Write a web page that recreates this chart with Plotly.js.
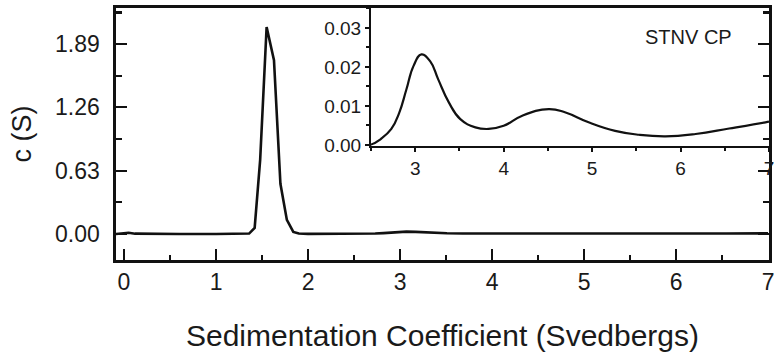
<!DOCTYPE html>
<html>
<head>
<meta charset="utf-8">
<script src="https://cdn.plot.ly/plotly-3.0.1.min.js"></script>
<style>html,body{margin:0;padding:0;background:#fff;}#chart{width:774px;height:352px;}</style>
</head>
<body>
<div id="chart"></div>
<script>
// Sedimentation coefficient (Svedbergs)
var sedX = [-0.09, -0.02, 0.05, 0.12, 0.3, 0.6, 1.0, 1.3, 1.36, 1.42, 1.48, 1.55, 1.63, 1.70, 1.77, 1.84, 1.90, 2.0, 2.2, 2.4,
            2.5, 2.61, 2.73, 2.82, 2.90, 2.98, 3.07, 3.17, 3.26, 3.38, 3.51, 3.68, 3.83,
            4.0, 4.21, 4.51, 4.70, 4.96, 5.26, 5.53, 5.83, 6.17, 6.55, 6.96, 7.0];
// c(S)
var sedC = [0.0, 0.004, 0.012, 0.003, 0.0, 0.0, 0.0, 0.0005, 0.004, 0.06, 0.74, 2.06, 1.73, 0.5, 0.14, 0.02, 0.004, 0.001, 0.0003, 0.0001,
            0.0001, 0.0015, 0.0041, 0.0083, 0.0142, 0.0202, 0.0232, 0.0214, 0.0168, 0.0109, 0.0066, 0.0045, 0.0041,
            0.0049, 0.0075, 0.0092, 0.0083, 0.0058, 0.0036, 0.0026, 0.0022, 0.0028, 0.0042, 0.0058, 0.0060];

var insetLabel = 'STNV CP';
var xTitle = 'Sedimentation Coefficient (Svedbergs)';
var yTitle = 'c (S)';

var ink = '#111';
var font = '"Liberation Sans", Arial, sans-serif';

var traces = [
  {x: sedX, y: sedC, type: 'scatter', mode: 'lines', xaxis: 'x', yaxis: 'y',
   line: {color: ink, width: 2.6}, hoverinfo: 'skip'},
  {x: sedX, y: sedC, type: 'scatter', mode: 'lines', xaxis: 'x2', yaxis: 'y2',
   line: {color: ink, width: 2.2, shape: 'spline', smoothing: 1.3}, hoverinfo: 'skip'}
];

var layout = {
  width: 774, height: 352,
  margin: {l: 116, r: 5, t: 8, b: 92, pad: 0},
  paper_bgcolor: '#fff', plot_bgcolor: 'rgba(0,0,0,0)',
  showlegend: false,
  font: {family: font, color: '#1a1a1a'},
  xaxis: {
    domain: [0, 1], range: [-0.087, 7.01], tick0: 0, dtick: 1,
    ticks: 'inside', ticklen: 11, tickwidth: 2.2, tickcolor: ink,
    minor: {dtick: 0.5, ticks: 'inside', ticklen: 5, tickwidth: 2.2, tickcolor: ink},
    showline: true, linewidth: 2.6, linecolor: ink, mirror: true,
    showgrid: false, zeroline: false, ticklabeloverflow: 'allow',
    tickfont: {size: 23, color: '#1a1a1a'}, ticklabelstandoff: 0,
    title: {text: xTitle, font: {size: 30, color: '#1a1a1a'}, standoff: 33}
  },
  yaxis: {
    domain: [0, 1], range: [-0.259, 2.249], tick0: 0, dtick: 0.63, tickformat: '.2f',
    ticks: 'inside', ticklen: 11, tickwidth: 2.2, tickcolor: ink,
    minor: {dtick: 0.315, ticks: 'inside', ticklen: 6, tickwidth: 2.2, tickcolor: ink},
    showline: true, linewidth: 2.6, linecolor: ink, mirror: 'ticks',
    showgrid: false, zeroline: false,
    tickfont: {size: 23, color: '#1a1a1a'}, ticklabelstandoff: 9,
    title: {text: yTitle, font: {size: 27, color: '#1a1a1a'}, standoff: 16}
  },
  xaxis2: {
    domain: [0.3905, 1], anchor: 'y2', range: [2.5, 7.0], tick0: 0, dtick: 1,
    ticks: 'outside', ticklen: 4, tickwidth: 2, tickcolor: ink,
    minor: {dtick: 0.5, ticks: 'outside', ticklen: 3, tickwidth: 2, tickcolor: ink},
    showline: true, linewidth: 2, linecolor: ink, mirror: false,
    showgrid: false, zeroline: false, ticklabeloverflow: 'allow',
    tickfont: {size: 19, color: '#1a1a1a'}, ticklabelstandoff: 0
  },
  yaxis2: {
    domain: [0.452, 1], anchor: 'x2', range: [-0.0003, 0.0351], tick0: 0, dtick: 0.01, tickformat: '.2f',
    ticks: 'outside', ticklen: 4, tickwidth: 2, tickcolor: ink,
    minor: {dtick: 0.005, ticks: 'outside', ticklen: 3, tickwidth: 2, tickcolor: ink},
    showline: true, linewidth: 2, linecolor: ink, mirror: false,
    showgrid: false, zeroline: false,
    tickfont: {size: 19, color: '#1a1a1a'}, ticklabelstandoff: 0
  },
  annotations: [
    {text: insetLabel, xref: 'paper', yref: 'paper', x: 0.876, y: 0.883,
     xanchor: 'center', yanchor: 'middle', showarrow: false,
     font: {size: 20, color: '#1a1a1a', family: font}}
  ]
};

Plotly.newPlot('chart', traces, layout, {staticPlot: true, displayModeBar: false});
</script>
</body>
</html>
